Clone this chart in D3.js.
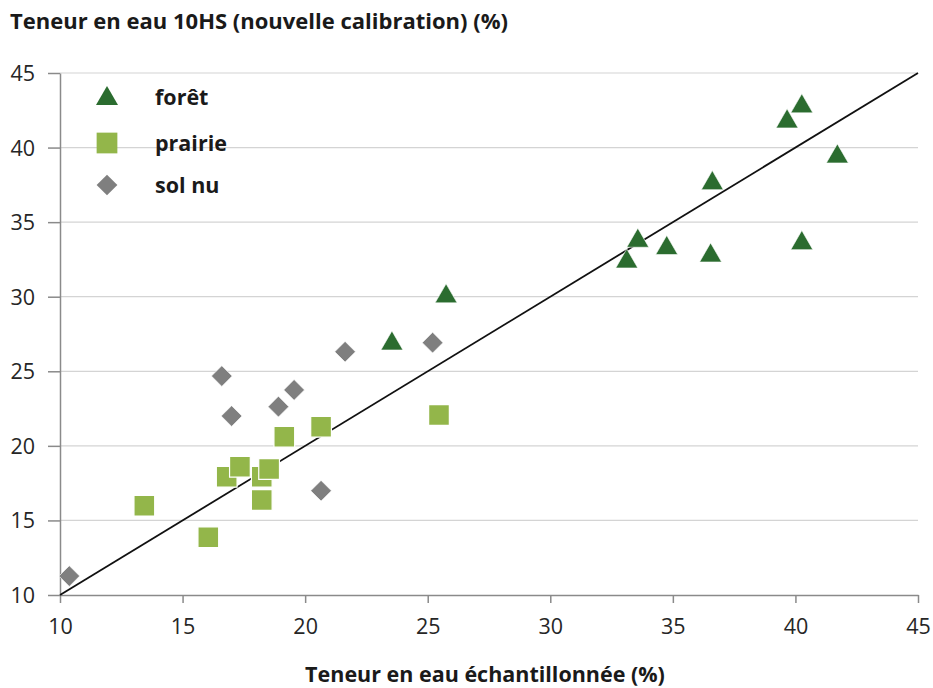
<!DOCTYPE html>
<html>
<head>
<meta charset="utf-8">
<script src="https://cdn.jsdelivr.net/npm/d3@7"></script>
<style>
  html, body { margin: 0; padding: 0; background: #fff; }
  svg { display: block; font-family: "Open Sans", "Liberation Sans", sans-serif; }
</style>
</head>
<body>
<svg id="chart" width="933" height="688"></svg>
<script>
// Soil water content: 10HS probe (new calibration) vs sampled value, per land cover
const foretX   = [39.66, 40.26, 41.71, 36.61, 33.57, 33.12, 34.75, 36.54, 40.26, 25.75, 23.54];
const foretY   = [41.85, 42.86, 39.50, 37.71, 33.85, 32.46, 33.36, 32.86, 33.69, 30.12, 26.96];
const prairieX = [13.44, 16.05, 16.80, 17.34, 18.23, 18.53, 18.23, 19.15, 20.65, 25.46];
const prairieY = [15.99, 13.87, 17.93, 18.60, 17.93, 18.45, 16.37, 20.61, 21.28, 22.07];
const solnuX   = [16.60, 17.00, 18.91, 19.55, 21.63, 25.20, 20.65, 10.38];
const solnuY   = [24.68, 22.00, 22.63, 23.75, 26.31, 26.92, 16.99, 11.27];
const ticks    = [10, 15, 20, 25, 30, 35, 40, 45];
const seriesNames = ["forêt", "prairie", "sol nu"];

const svg = d3.select("#chart");
const margin = { left: 60, right: 15, top: 73, bottom: 93 };
const W = 933, H = 688;

const x = d3.scaleLinear().domain([10, 45]).range([margin.left, W - margin.right]);
const y = d3.scaleLinear().domain([10, 45]).range([H - margin.bottom, margin.top]);

const colors = { "forêt": "#2b6c2f", "prairie": "#93b64a", "sol nu": "#7f7f7f" };
const symbols = { "forêt": d3.symbolTriangle, "prairie": d3.symbolSquare, "sol nu": d3.symbolSquare };
const sizes = { "forêt": 210, "prairie": 430, "sol nu": 215 };
const rotations = { "forêt": 0, "prairie": 0, "sol nu": 45 };

// horizontal gridlines
svg.append("g")
  .selectAll("line")
  .data(ticks.slice(1))
  .join("line")
  .attr("x1", x(10)).attr("x2", x(45))
  .attr("y1", d => y(d)).attr("y2", d => y(d))
  .attr("stroke", "#d4d4d4").attr("stroke-width", 1.2);

// axes
const xAxis = d3.axisBottom(x).tickValues(ticks).tickSize(8).tickPadding(16).tickSizeOuter(0);
const yAxis = d3.axisLeft(y).tickValues(ticks).tickSize(12).tickPadding(13).tickSizeOuter(0);

const gx = svg.append("g").attr("transform", `translate(0,${y(10)})`).call(xAxis);
const gy = svg.append("g").attr("transform", `translate(${x(10)},0)`).call(yAxis);
[gx, gy].forEach(g => {
  g.select(".domain").attr("stroke", "#8a8a8a").attr("stroke-width", 1.5);
  g.selectAll(".tick line").attr("stroke", "#8a8a8a").attr("stroke-width", 1.5);
  g.selectAll(".tick text")
    .attr("fill", "#262626")
    .style("font-size", "21.5px")
    .style("font-family", "'Open Sans', sans-serif")
    .style("font-weight", "400");
});
gy.selectAll(".tick text").attr("dy", "0.35em");

// 1:1 reference line
svg.append("line")
  .attr("x1", x(10)).attr("y1", y(10))
  .attr("x2", x(45)).attr("y2", y(45))
  .attr("stroke", "#111").attr("stroke-width", 1.8);

// scatter series
const series = [
  { name: "forêt", xs: foretX, ys: foretY },
  { name: "prairie", xs: prairieX, ys: prairieY },
  { name: "sol nu", xs: solnuX, ys: solnuY }
];

function symbolPath(name) {
  return d3.symbol().type(symbols[name]).size(sizes[name])();
}

// triangles drawn centred on their bounding box; diamonds are rotated squares
function markerTransform(name, cx, cy) {
  let dy = 0;
  if (name === "forêt") {
    const r = Math.sqrt(sizes[name] / (3 * Math.sqrt(3)));
    dy = r * 0.25;
  }
  return `translate(${cx},${cy + dy}) rotate(${rotations[name]})`;
}

// draw order: sol nu, prairie, forêt
[series[2], series[1], series[0]].forEach(s => {
  svg.append("g")
    .selectAll("path")
    .data(s.xs.map((v, i) => [v, s.ys[i]]))
    .join("path")
    .attr("d", symbolPath(s.name))
    .attr("transform", d => markerTransform(s.name, x(d[0]), y(d[1])))
    .attr("fill", colors[s.name])
    .attr("stroke", "#ffffff")
    .attr("stroke-width", s.name === "prairie" ? 1.2 : 0.6);
});

// legend
const legend = svg.append("g");
seriesNames.forEach((name, i) => {
  const cy = [97, 143, 185][i];
  legend.append("path")
    .attr("d", symbolPath(name))
    .attr("transform", markerTransform(name, 107, cy))
    .attr("fill", colors[name]);
  legend.append("text")
    .attr("x", 155).attr("y", cy)
    .attr("dy", "0.35em")
    .attr("fill", "#1a1a1a")
    .style("font-size", "21.5px")
    .style("font-weight", "700")
    .text(name);
});

// axis titles
svg.append("text")
  .attr("x", 10).attr("y", 29)
  .attr("fill", "#1a1a1a")
  .style("font-size", "22px").style("font-weight", "700")
  .text("Teneur en eau 10HS (nouvelle calibration) (%)");

svg.append("text")
  .attr("x", 485).attr("y", 682)
  .attr("text-anchor", "middle")
  .attr("fill", "#1a1a1a")
  .style("font-size", "21.5px").style("font-weight", "700")
  .text("Teneur en eau échantillonnée (%)");
</script>
</body>
</html>
